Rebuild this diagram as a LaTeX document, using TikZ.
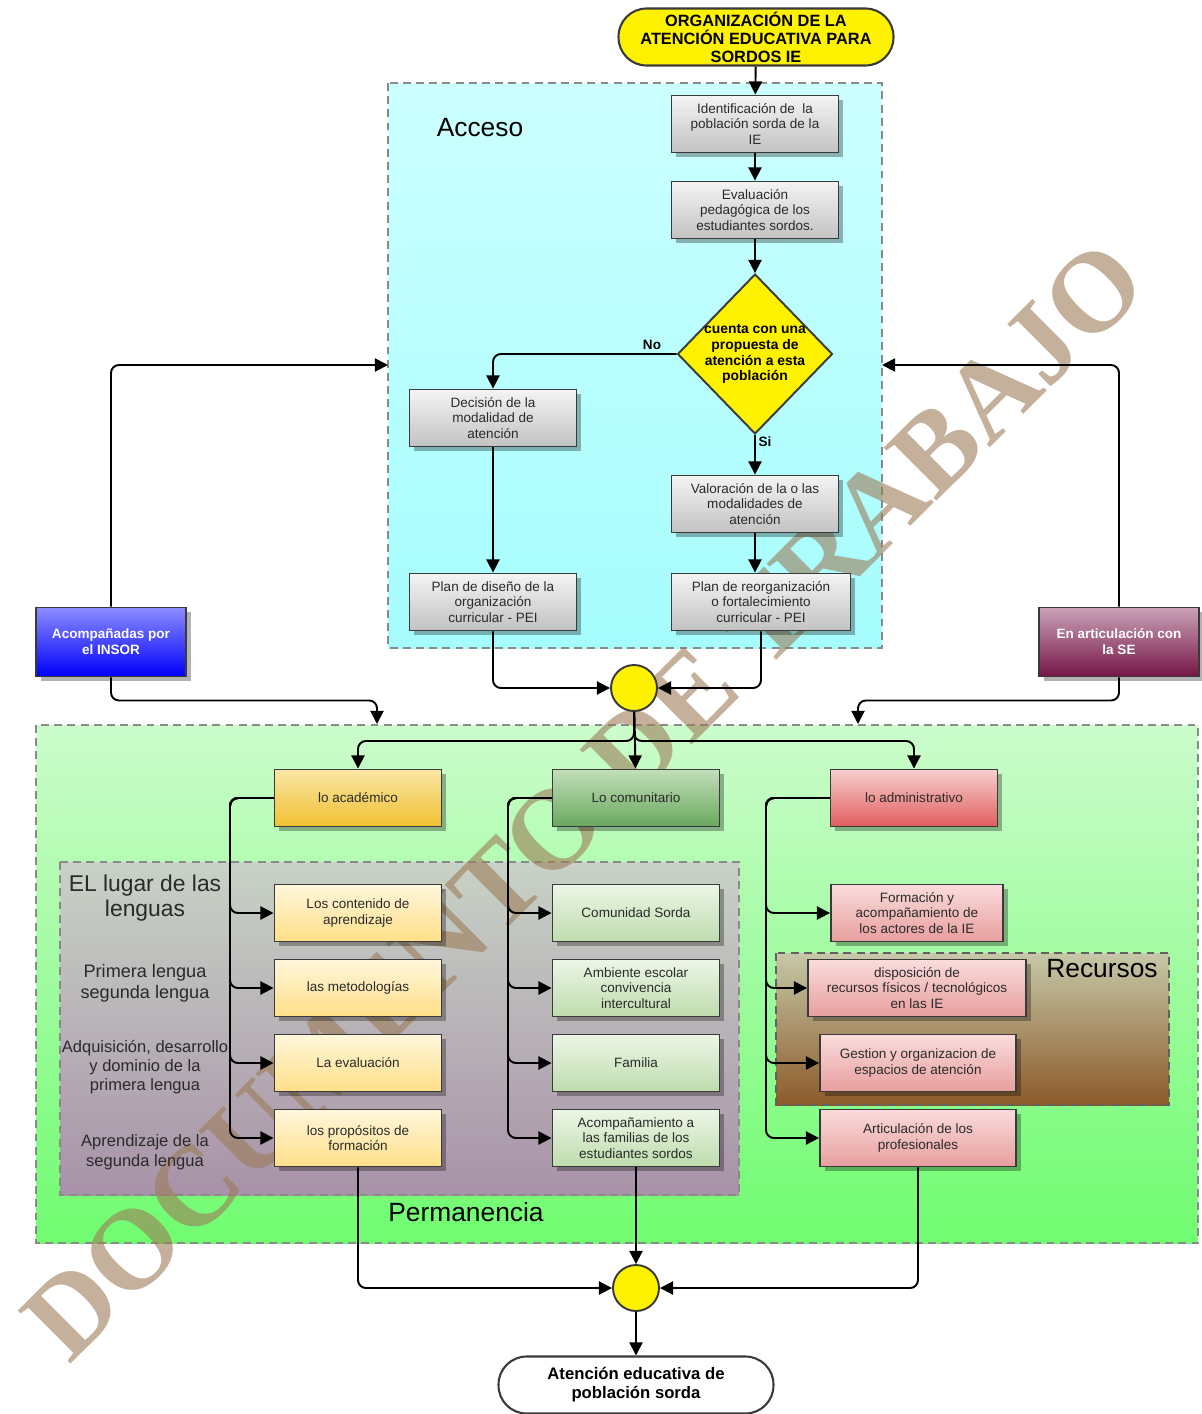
\documentclass[tikz,border=0pt]{standalone}
\usepackage{fontspec}
\setmainfont{Liberation Sans}
\newfontfamily\wmfont{Liberation Serif}
\usepackage{tikz}
\usetikzlibrary{arrows.meta,shapes.geometric,shadows,calc,positioning}

\definecolor{boxLine}{HTML}{3A3A3A}
\definecolor{regLine}{HTML}{8A8A8A}
\definecolor{txt}{HTML}{2A2A2A}
\definecolor{accTop}{HTML}{CCFFFF}
\definecolor{accBot}{HTML}{A6FDFD}
\definecolor{perTop}{HTML}{CCFCCC}
\definecolor{perBot}{HTML}{70FC70}
\definecolor{lenTop}{HTML}{C8D2C6}
\definecolor{lenBot}{HTML}{A892A8}
\definecolor{recTop}{HTML}{C6C8A8}
\definecolor{recBot}{HTML}{8C5A2A}
\definecolor{grayTop}{HTML}{F4F4F4}
\definecolor{grayBot}{HTML}{C2C2C2}
\definecolor{acaTop}{HTML}{FBE7A6}
\definecolor{acaBot}{HTML}{F0C030}
\definecolor{acsTop}{HTML}{FFF7DC}
\definecolor{acsBot}{HTML}{FFDF88}
\definecolor{comTop}{HTML}{C2DEBA}
\definecolor{comBot}{HTML}{6AA85E}
\definecolor{cosTop}{HTML}{ECF6E6}
\definecolor{cosBot}{HTML}{BEDCAE}
\definecolor{admTop}{HTML}{F8CECE}
\definecolor{admBot}{HTML}{E05E5E}
\definecolor{adsTop}{HTML}{FADCDC}
\definecolor{adsBot}{HTML}{E89E9E}
\definecolor{insTop}{HTML}{8C8CFF}
\definecolor{insBot}{HTML}{0000FA}
\definecolor{seTop}{HTML}{CAA2B8}
\definecolor{seBot}{HTML}{761646}
\definecolor{wmTan}{HTML}{9C7C58}

\newcommand\boxfont{\fontsize{7.7}{9}\selectfont}
\newcommand\termfont{\fontsize{9.3}{10.2}\selectfont\bfseries}
\newcommand\finfont{\fontsize{9.5}{10.8}\selectfont\bfseries}
\newcommand\regfont{\fontsize{15}{17}\selectfont}
\newcommand\lenfont{\fontsize{10.3}{11.5}\selectfont}

\begin{document}
\begin{tikzpicture}[x=0.02cm,y=-0.02cm,
  conn/.style={line width=1.1pt,-{Triangle[length=7.5pt,width=7.5pt]},rounded corners=4.5pt},
  region/.style={draw=regLine,dash pattern=on 4.5pt off 3pt,line width=1pt},
  box/.style={draw=boxLine,line width=1.1pt,minimum width=3.34cm,minimum height=1.14cm,
    align=center,inner sep=1pt,font=\boxfont,text=txt,
    drop shadow={shadow xshift=2.6pt,shadow yshift=-2.6pt,fill=black,opacity=0.3}},
  graybox/.style={box,top color=grayTop,bottom color=grayBot},
  acabox/.style={box,top color=acaTop,bottom color=acaBot},
  acsbox/.style={box,top color=acsTop,bottom color=acsBot},
  combox/.style={box,top color=comTop,bottom color=comBot},
  cosbox/.style={box,top color=cosTop,bottom color=cosBot},
  admbox/.style={box,top color=admTop,bottom color=admBot},
  adsbox/.style={box,top color=adsTop,bottom color=adsBot},
  sidebox/.style={box,minimum height=1.38cm,text=white,font=\boxfont\bfseries},
  term/.style={draw=boxLine,line width=1.2pt,rounded corners=0.56cm,minimum width=5.5cm,
    minimum height=1.14cm,align=center,inner sep=1pt},
  junc/.style={circle,draw=boxLine,fill=yellow,line width=1.1pt,minimum size=0.92cm,inner sep=0pt},
  lbl/.style={font=\boxfont\bfseries,inner sep=1pt},
  lentxt/.style={font=\lenfont,align=center,text=txt}]

\useasboundingbox (0,0) rectangle (1201,1414);

% regiones
\draw[region,top color=accTop,bottom color=accBot] (388,83) rectangle (882,648);
\draw[region,top color=perTop,bottom color=perBot] (36,725) rectangle (1198,1243);
\draw[region,top color=lenTop,bottom color=lenBot] (60,862) rectangle (739,1195);
\draw[region,draw=boxLine!80,top color=recTop,bottom color=recBot] (776,953) rectangle (1169,1105);

\node[font=\regfont] (acceso) at (480,128) {Acceso};
\node[font=\regfont] (perm) at (466,1212) {Permanencia};
\node[font=\regfont] (recur) at (1102,969) {Recursos};

% marca de agua
\node[font=\wmfont\fontsize{65}{65}\selectfont\bfseries,text=wmTan,opacity=0.6,rotate=44.9,inner sep=0pt]
  (wm) at (584,800) {DOCUMENTO DE TRABAJO};

% acceso
\node[term,fill=yellow,font=\termfont] (title) at (756,37) {ORGANIZACIÓN DE LA\\ATENCIÓN EDUCATIVA PARA\\SORDOS IE};
\node[graybox] (ident) at (755,124) {Identificación de \ la\\población sorda de la\\IE};
\node[graybox] (evalp) at (755,210) {Evaluación\\pedagógica de los\\estudiantes sordos.};
\node[diamond,draw=boxLine,fill=yellow,line width=1.1pt,minimum width=3.1cm,minimum height=3.2cm,inner sep=0pt,
  label={[font=\fontsize{7.9}{9}\selectfont\bfseries,align=center]center:cuenta con una\\propuesta de\\atención a esta\\población}] (dia) at (755,354) {};
\node[graybox] (deci) at (493,418) {Decisión de la\\modalidad de\\atención};
\node[graybox] (valo) at (755,504) {Valoración de la o las\\modalidades de\\atención};
\node[graybox] (pdis) at (493,602) {Plan de diseño de la\\organización\\curricular - PEI};
\node[graybox,minimum width=3.58cm] (preo) at (761,602) {Plan de reorganización\\o fortalecimiento\\curricular - PEI};
\node[lbl] (no) at (652,345) {No};
\node[lbl] (si) at (765,442) {Si};
\node[junc] (j1) at (634,688) {};

\draw[conn] (title) -- (ident);
\draw[conn] (ident) -- (evalp);
\draw[conn] (evalp.south) -- (dia.north);
\draw[conn] (dia.west) -| (deci.north);
\draw[conn] (dia.south) -- (valo.north);
\draw[conn] (deci) -- (pdis);
\draw[conn] (valo.south) -- (valo.south |- preo.north);
\draw[conn] (pdis.south) |- (j1);
\draw[conn] (preo.south) |- (j1);

% apoyos laterales
\node[sidebox,minimum width=3.0cm,top color=insTop,bottom color=insBot] (insor) at (111,642) {Acompañadas por\\el INSOR};
\node[sidebox,minimum width=3.2cm,top color=seTop,bottom color=seBot] (se) at (1119,642) {En articulación con\\la SE};
\coordinate (accL) at (388,365);
\coordinate (accR) at (882,365);
\coordinate (permL) at (377,724);
\coordinate (permR) at (858,724);
\draw[conn] (insor.north) |- (accL);
\draw[conn] (se.north) |- (accR);
\draw[conn] (insor.south) -- ++(0,23) -| (permL);
\draw[conn] (se.south) -- ++(0,23) -| (permR);

% permanencia
\node[acabox] (acad) at (358,798) {lo académico};
\node[combox] (comu) at (636,798) {Lo comunitario};
\node[admbox] (admi) at (914,798) {lo administrativo};
\coordinate (bus) at (634,741);
\draw[conn] (j1) -- (comu);
\draw[conn] (j1.south) -- (bus) -| (acad.north);
\draw[conn] (j1.south) -- (bus) -| (admi.north);

\node[acsbox] (cont) at (358,913) {Los contenido de\\aprendizaje};
\node[acsbox] (meto) at (358,988) {las metodologías};
\node[acsbox] (eval) at (358,1063) {La evaluación};
\node[acsbox] (prop) at (358,1138) {los propósitos de\\formación};

\node[cosbox] (csor) at (636,913) {Comunidad Sorda};
\node[cosbox] (amb) at (636,988) {Ambiente escolar\\convivencia\\intercultural};
\node[cosbox] (fam) at (636,1063) {Familia};
\node[cosbox] (acom) at (636,1138) {Acompañamiento a\\las familias de los\\estudiantes sordos};

\node[adsbox,minimum width=3.44cm] (form) at (917,913) {Formación y\\acompañamiento de\\los actores de la IE};
\node[adsbox,minimum width=4.36cm] (disp) at (917,988) {disposición de\\recursos físicos / tecnológicos\\en las IE};
\node[adsbox,minimum width=3.92cm] (gest) at (918,1063) {Gestion y organizacion de\\espacios de atención};
\node[adsbox,minimum width=3.92cm] (arti) at (918,1138) {Articulación de los\\profesionales};

\node[lentxt,font=\fontsize{13}{14.7}\selectfont] (lugar) at (145,898) {EL lugar de las\\lenguas};
\node[lentxt,font=\fontsize{10.3}{12}\selectfont] (prim) at (145,983) {Primera lengua\\segunda lengua};
\node[lentxt,font=\fontsize{9.4}{10.6}\selectfont] (adq) at (145,1067) {Adquisición, desarrollo\\y dominio de la\\primera lengua};
\node[lentxt,font=\fontsize{9.4}{11.5}\selectfont] (apr) at (145,1152) {Aprendizaje de la\\segunda lengua};

\coordinate (acadL) at (230,798);
\coordinate (comuL) at (508,798);
\coordinate (admiL) at (766,798);
\foreach \n in {cont,meto,eval,prop}
  \draw[conn] (acad.west) -- (acadL) |- (\n.west);
\foreach \n in {csor,amb,fam,acom}
  \draw[conn] (comu.west) -- (comuL) |- (\n.west);
\foreach \n in {form,disp,gest,arti}
  \draw[conn] (admi.west) -- (admiL) |- (\n.west);

% cierre
\node[junc] (j2) at (636,1288) {};
\node[term,fill=white,font=\finfont] (fin) at (636,1385) {Atención educativa de\\población sorda};
\draw[conn] (prop.south) |- (j2);
\draw[conn] (acom) -- (j2);
\draw[conn] (arti.south) |- (j2);
\draw[conn] (j2) -- (fin);
\end{tikzpicture}
\end{document}
